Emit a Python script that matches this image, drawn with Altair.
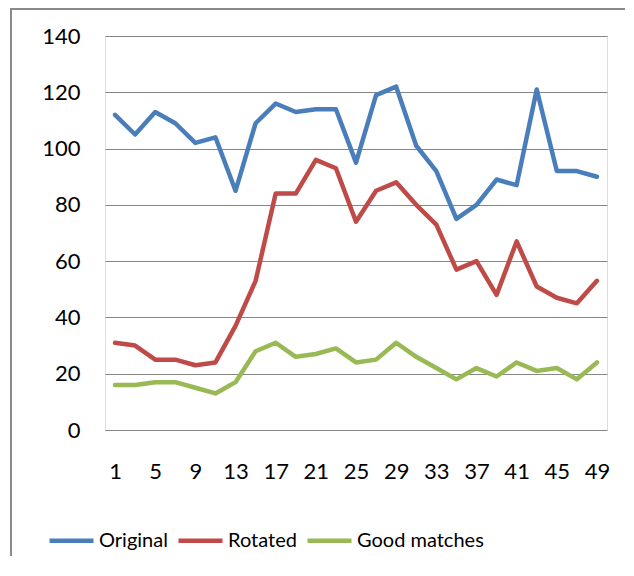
import altair as alt
import pandas as pd

x_values = list(range(1, 50, 2))
original = [112, 105, 113, 109, 102, 104, 85, 109, 116, 113, 114, 114, 95,
            119, 122, 101, 92, 75, 80, 89, 87, 121, 92, 92, 90]
rotated = [31, 30, 25, 25, 23, 24, 37, 53, 84, 84, 96, 93, 74,
           85, 88, 80, 73, 57, 60, 48, 67, 51, 47, 45, 53]
good_matches = [16, 16, 17, 17, 15, 13, 17, 28, 31, 26, 27, 29, 24,
                25, 31, 26, 22, 18, 22, 19, 24, 21, 22, 18, 24]
series_names = ["Original", "Rotated", "Good matches"]
series_colors = ["#4A7EBB", "#BE4B48", "#98B954"]
x_tick_labels = list(range(1, 50, 4))
y_ticks = list(range(0, 141, 20))

rows = []
for name, vals in zip(series_names, [original, rotated, good_matches]):
    for xv, v in zip(x_values, vals):
        rows.append({"x": xv, "value": v, "series": name})
df = pd.DataFrame(rows)

FONT = "Lato"

lines = alt.Chart(df).mark_line(strokeWidth=4.5, strokeJoin="round", strokeCap="round").encode(
    x=alt.X("x:Q", scale=alt.Scale(domain=[0, 50], nice=False, zero=False),
            axis=alt.Axis(values=x_tick_labels, grid=False, ticks=False, domain=False,
                          labelPadding=31, labelFontSize=22, labelFont=FONT,
                          labelColor="#000000", title=None, labelFlush=False)),
    y=alt.Y("value:Q", scale=alt.Scale(domain=[0, 140], nice=False),
            axis=alt.Axis(values=y_ticks, grid=True, gridColor="#868686", gridWidth=1.2,
                          ticks=False, domain=False, labelPadding=25,
                          labelFontSize=22, labelFont=FONT, labelColor="#000000",
                          title=None)),
    color=alt.Color("series:N",
                    scale=alt.Scale(domain=series_names, range=series_colors),
                    sort=series_names,
                    legend=alt.Legend(orient="none", legendX=-58, legendY=480,
                                      direction="horizontal", title=None,
                                      symbolType="stroke", symbolSize=1936,
                                      symbolStrokeWidth=4.5, labelFontSize=20,
                                      labelFont=FONT, labelColor="#000000",
                                      labelOffset=3, columnPadding=1, padding=0)),
    order=alt.Order("x:Q"),
)

frame_src = pd.DataFrame({"a": [0]})
left_edge = alt.Chart(frame_src).mark_rect(fill="#8a8a8a", clip=False).encode(
    x=alt.value(-95), x2=alt.value(-93), y=alt.value(-28), y2=alt.value(524)
)
top_edge = alt.Chart(frame_src).mark_rect(fill="#8a8a8a", clip=False).encode(
    x=alt.value(-95), x2=alt.value(520), y=alt.value(-28), y2=alt.value(-26)
)

chart = alt.layer(left_edge, top_edge, lines).properties(
    width=502, height=394,
    autosize=alt.AutoSizeParams(type="none"),
    padding={"left": 97, "top": 28, "right": 18, "bottom": 126},
).configure_view(stroke=None).configure(background="#ffffff")

chart.save("out.html", embed_options={"renderer": "svg", "actions": False})
